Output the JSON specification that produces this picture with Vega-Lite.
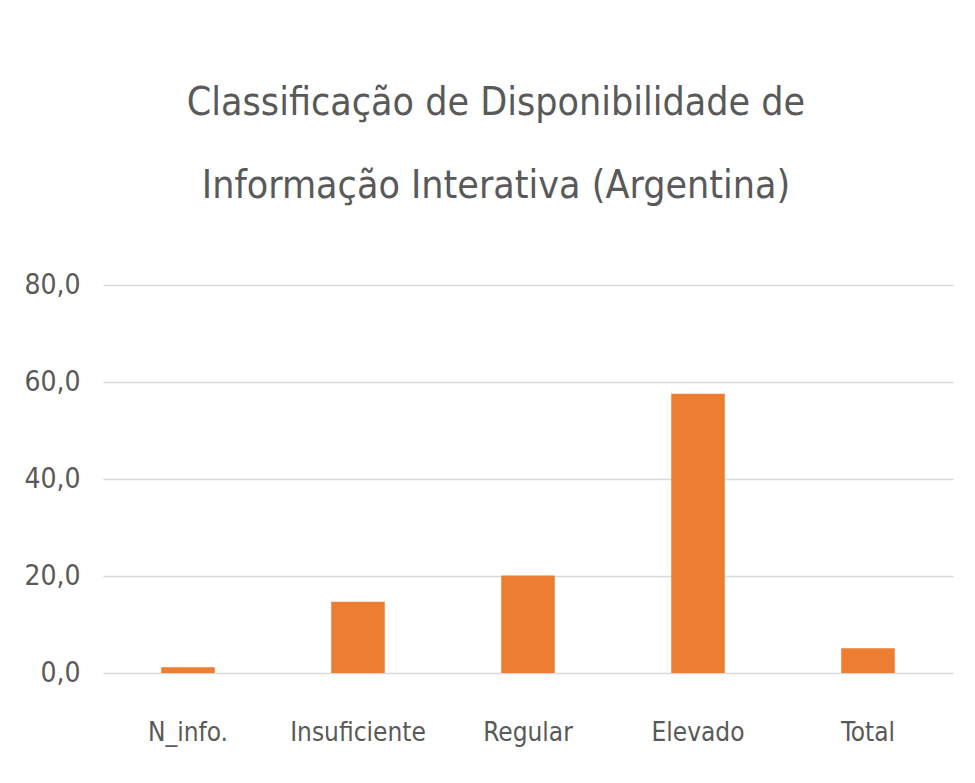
{
  "$schema": "https://vega.github.io/schema/vega-lite/v6.json",
  "autosize": "none",
  "width": 850,
  "height": 388,
  "padding": {"left": 103, "top": 285, "right": 22, "bottom": 110},
  "background": "white",
  "title": {
    "text": ["Classificação de Disponibilidade de", "Informação Interativa (Argentina)"],
    "font": "Liberation Sans Narrow, DejaVu Sans Condensed, Roboto, sans-serif",
    "fontSize": 39,
    "fontWeight": "normal",
    "color": "#595959",
    "anchor": "middle",
    "dx": -32,
    "lineHeight": 83,
    "offset": 65
  },
  "data": {
    "values": [
      {"categoria": "N_info.", "valor": 1.2},
      {"categoria": "Insuficiente", "valor": 14.7},
      {"categoria": "Regular", "valor": 20.1},
      {"categoria": "Elevado", "valor": 57.6},
      {"categoria": "Total", "valor": 5.1}
    ]
  },
  "mark": {"type": "bar", "color": "#ED7D31"},
  "encoding": {
    "x": {
      "field": "categoria",
      "type": "nominal",
      "sort": null,
      "scale": {"paddingInner": 0.685, "paddingOuter": 0.3425},
      "axis": {
        "title": null,
        "labelAngle": 0,
        "ticks": false,
        "domain": false,
        "labelFont": "Liberation Sans Narrow, DejaVu Sans Condensed, Roboto, sans-serif",
        "labelFontSize": 26,
        "labelColor": "#595959",
        "labelPadding": 46
      }
    },
    "y": {
      "field": "valor",
      "type": "quantitative",
      "scale": {"domain": [0, 80]},
      "axis": {
        "title": null,
        "values": [0, 20, 40, 60, 80],
        "labelExpr": "replace(format(datum.value, '.1f'), '.', ',')",
        "ticks": false,
        "domain": false,
        "grid": true,
        "gridColor": "#d9d9d9",
        "gridWidth": 1.5,
        "labelFont": "Liberation Sans Narrow, DejaVu Sans Condensed, Roboto, sans-serif",
        "labelFontSize": 28,
        "labelColor": "#595959",
        "labelPadding": 23
      }
    }
  },
  "config": {"view": {"stroke": null}}
}
